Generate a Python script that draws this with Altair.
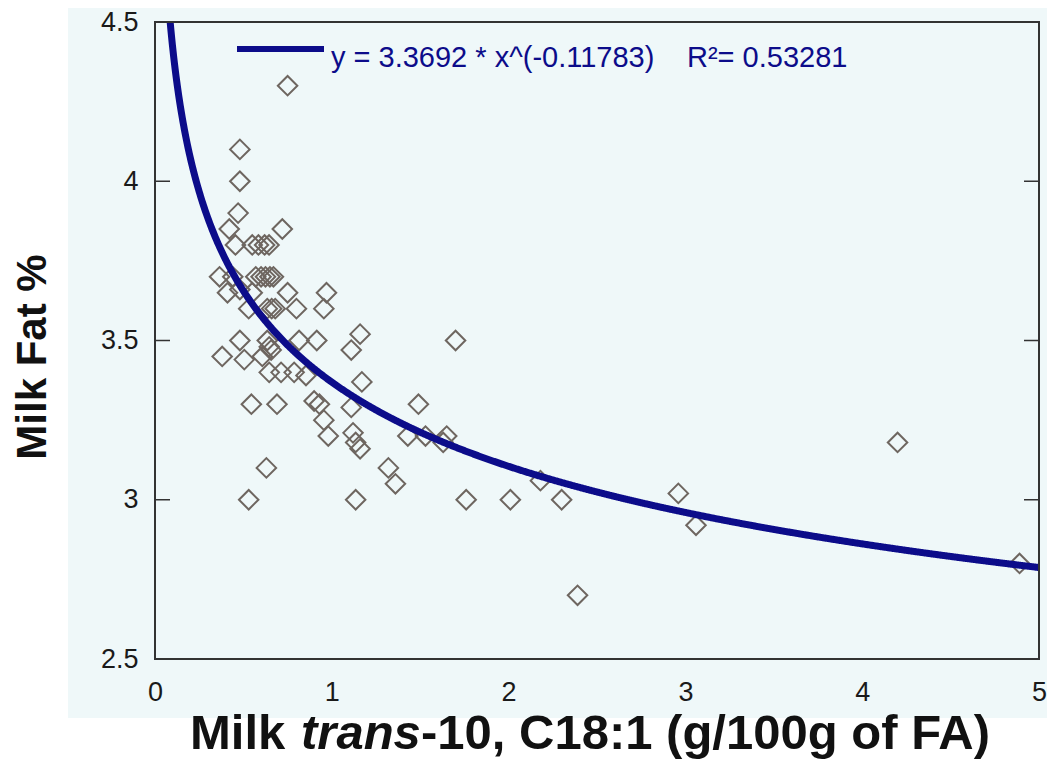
import altair as alt
import pandas as pd

# ---- data ----
x_vals = [0.75, 0.48, 0.48, 0.47, 0.42, 0.72, 0.455, 0.55, 0.585, 0.62, 0.645,
          0.365, 0.44, 0.57, 0.60, 0.625, 0.65, 0.67,
          0.41, 0.48, 0.55, 0.75, 0.97,
          0.53, 0.635, 0.66, 0.68, 0.80, 0.955,
          0.48, 0.635, 0.646, 0.657, 0.815, 0.915, 1.16, 1.11, 1.70,
          0.38, 0.505, 0.607,
          0.646, 0.713, 0.787, 0.854, 1.17,
          0.545, 0.69, 0.90, 0.93, 1.11, 1.49,
          0.955,
          0.98, 1.12, 1.135, 1.16, 1.43, 1.53, 1.65, 1.63,
          0.63, 1.32,
          1.36, 2.18,
          0.53, 1.135, 1.76, 2.01, 2.30, 2.96,
          3.06, 4.20, 4.89, 2.39]
y_vals = [4.30, 4.10, 4.00, 3.90, 3.85, 3.85, 3.80, 3.80, 3.80, 3.80, 3.80,
          3.70, 3.70, 3.70, 3.70, 3.70, 3.70, 3.70,
          3.65, 3.66, 3.65, 3.65, 3.65,
          3.60, 3.60, 3.60, 3.60, 3.60, 3.60,
          3.50, 3.50, 3.48, 3.47, 3.50, 3.50, 3.52, 3.47, 3.50,
          3.45, 3.44, 3.45,
          3.40, 3.40, 3.40, 3.39, 3.37,
          3.30, 3.30, 3.31, 3.30, 3.29, 3.30,
          3.25,
          3.20, 3.21, 3.18, 3.16, 3.20, 3.20, 3.20, 3.18,
          3.10, 3.10,
          3.05, 3.06,
          3.00, 3.00, 3.00, 3.00, 3.00, 3.02,
          2.92, 3.18, 2.80, 2.70]

x_ticks = [0, 1, 2, 3, 4, 5]
y_ticks = [2.5, 3, 3.5, 4, 4.5]

coef_a = 3.3692
coef_b = -0.11783
eq_text = "y = 3.3692 * x^(-0.11783)"
r2_text = "R\u00b2= 0.53281"
x_title_parts = ["Milk", "trans", "-10, C18:1 (g/100g of FA)"]
y_title = "Milk Fat %"

NAVY = "#0c0c8a"
FONT = "Liberation Sans"
W, H = 884, 637

pts = pd.DataFrame({"x": x_vals, "y": y_vals})
ticks_df = pd.DataFrame({"y": y_ticks})
one = alt.Data(values=[{"a": 1}])

xs = alt.Scale(domain=[0, 5], nice=False, zero=False)
ys = alt.Scale(domain=[2.5, 4.5], nice=False, zero=False)

x_axis = alt.Axis(
    values=x_ticks, ticks=False, domain=False, grid=False, title=None,
    labelFont=FONT, labelFontSize=27, labelColor="#1a1a1a", labelPadding=20,
    labelFlush=False, format="d", zindex=2)
y_axis = alt.Axis(
    values=y_ticks, ticks=False, domain=False, grid=False, title=None,
    labelFont=FONT, labelFontSize=27, labelColor="#1a1a1a", labelPadding=17,
    format="~g", zindex=2)

bg = alt.Chart(one).mark_rect(color="#eff8f9").encode(
    x=alt.value(-87), x2=alt.value(W + 12), y=alt.value(-24), y2=alt.value(696)
)

points = alt.Chart(pts).mark_point(
    shape="diamond", filled=False, size=380, stroke="#6e6660", strokeWidth=2, opacity=1
).encode(
    x=alt.X("x:Q", scale=xs, axis=x_axis),
    y=alt.Y("y:Q", scale=ys, axis=y_axis),
)

curve = alt.Chart(alt.sequence(0.086, 5.0001, 0.004, as_="x")).transform_calculate(
    y=f"{coef_a} * pow(datum.x, {coef_b})"
).mark_line(color=NAVY, strokeWidth=7, clip=True).encode(
    x=alt.X("x:Q", scale=xs, axis=x_axis),
    y=alt.Y("y:Q", scale=ys, axis=y_axis),
)

tick_left = alt.Chart(ticks_df).mark_rule(color="#333333", strokeWidth=1.5).encode(
    y=alt.Y("y:Q", scale=ys, axis=y_axis), x=alt.value(0), x2=alt.value(15)
)
tick_right = alt.Chart(ticks_df).mark_rule(color="#333333", strokeWidth=1.5).encode(
    y=alt.Y("y:Q", scale=ys, axis=y_axis), x=alt.value(W - 15), x2=alt.value(W)
)

frame = alt.Chart(one).mark_rect(filled=False, stroke="#333333", strokeWidth=2).encode(
    x=alt.value(0), x2=alt.value(W), y=alt.value(0), y2=alt.value(H)
)

leg_line = alt.Chart(one).mark_rule(color=NAVY, strokeWidth=6).encode(
    x=alt.value(82), x2=alt.value(169), y=alt.value(27)
)
leg_eq = alt.Chart(one).mark_text(
    font=FONT, fontSize=29, color=NAVY, align="left", baseline="middle"
).encode(x=alt.value(176), y=alt.value(36), text=alt.value(eq_text))
leg_r2 = alt.Chart(one).mark_text(
    font=FONT, fontSize=29, color=NAVY, align="left", baseline="middle"
).encode(x=alt.value(532), y=alt.value(36), text=alt.value(r2_text))

xt1 = alt.Chart(one).mark_text(
    font=FONT, fontSize=49, fontWeight="bold", color="#111111", align="left", baseline="alphabetic"
).encode(x=alt.value(35), y=alt.value(727), text=alt.value(x_title_parts[0]))
xt2 = alt.Chart(one).mark_text(
    font=FONT, fontSize=49, fontWeight="bold", fontStyle="italic", color="#111111",
    align="left", baseline="alphabetic"
).encode(x=alt.value(146), y=alt.value(727), text=alt.value(x_title_parts[1]))
xt3 = alt.Chart(one).mark_text(
    font=FONT, fontSize=49, fontWeight="bold", color="#111111", align="left", baseline="alphabetic"
).encode(x=alt.value(266), y=alt.value(727), text=alt.value(x_title_parts[2]))

yt = alt.Chart(one).mark_text(
    font=FONT, fontSize=42, fontWeight="bold", color="#111111", angle=270,
    align="center", baseline="middle"
).encode(x=alt.value(-122), y=alt.value(335), text=alt.value(y_title))

chart = alt.layer(
    bg, points, curve, tick_left, tick_right, frame, leg_line, leg_eq, leg_r2,
    xt1, xt2, xt3, yt
).properties(
    width=W, height=H,
    padding={"left": 147, "top": 14, "right": 8, "bottom": 102},
    autosize=alt.AutoSizeParams(type="none"),
    background="white",
).configure_view(stroke=None)

chart.save("out.html", embed_options={"renderer": "svg", "actions": False})
